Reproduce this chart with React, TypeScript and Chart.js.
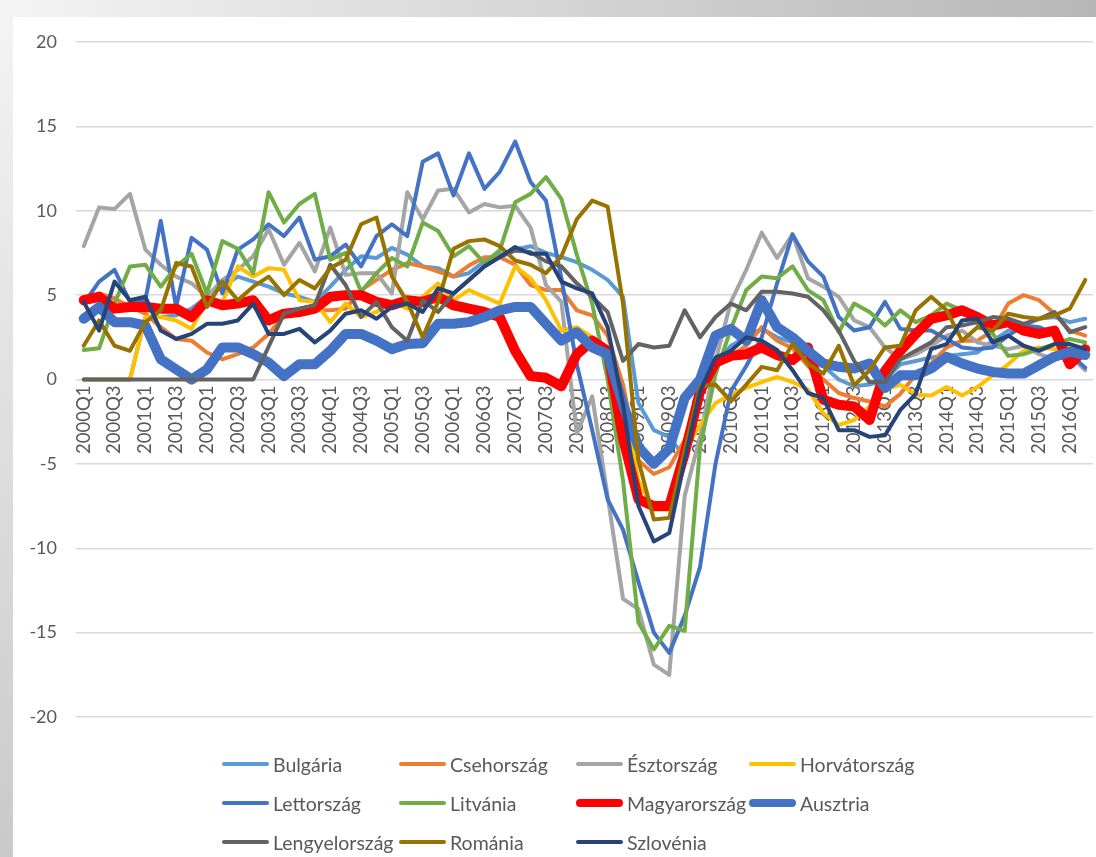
import React, { useEffect, useRef } from "react";
import { Chart, registerables } from "chart.js";

Chart.register(...registerables);

const quarters = [
  "2000Q1", "2000Q2", "2000Q3", "2000Q4", "2001Q1", "2001Q2", "2001Q3", "2001Q4",
  "2002Q1", "2002Q2", "2002Q3", "2002Q4", "2003Q1", "2003Q2", "2003Q3", "2003Q4",
  "2004Q1", "2004Q2", "2004Q3", "2004Q4", "2005Q1", "2005Q2", "2005Q3", "2005Q4",
  "2006Q1", "2006Q2", "2006Q3", "2006Q4", "2007Q1", "2007Q2", "2007Q3", "2007Q4",
  "2008Q1", "2008Q2", "2008Q3", "2008Q4", "2009Q1", "2009Q2", "2009Q3", "2009Q4",
  "2010Q1", "2010Q2", "2010Q3", "2010Q4", "2011Q1", "2011Q2", "2011Q3", "2011Q4",
  "2012Q1", "2012Q2", "2012Q3", "2012Q4", "2013Q1", "2013Q2", "2013Q3", "2013Q4",
  "2014Q1", "2014Q2", "2014Q3", "2014Q4", "2015Q1", "2015Q2", "2015Q3", "2015Q4",
  "2016Q1", "2016Q2",
];

const yTicks = [-20, -15, -10, -5, 0, 5, 10, 15, 20];

const bulgaria = [
  0, 0, 0, 0, 3.7, 3.7, 3.8, 4.2, 4.9, 5.5,
  6.1, 5.8, 5.5, 5.1, 4.9, 4.6, 5.5, 6.5, 7.3, 7.2,
  7.8, 7.4, 6.7, 6.6, 6.1, 6.3, 7.0, 7.4, 7.7, 7.9,
  7.5, 7.25, 6.95, 6.5, 5.9, 4.9, -1.4, -3.0, -3.4, -4.6,
  -0.5, 1.0, 2.0, 2.5, 3.0, 2.5, 2.2, 1.8, 0.8, 0.0,
  -0.4, -0.3, 0.0, 0.9, 1.1, 1.3, 1.4, 1.5, 1.6, 2.3,
  2.9, 3.2, 3.6, 3.7, 3.4, 3.6,
];

const csehorszag = [
  4.7, 5.1, 4.8, 4.3, 3.9, 3.1, 2.4, 2.3, 1.6, 1.2,
  1.5, 1.9, 2.7, 3.8, 4.0, 4.1, 4.1, 4.2, 5.3, 5.9,
  6.5, 6.9, 6.7, 6.4, 6.1, 6.75, 7.25, 7.25, 6.8, 5.6,
  5.3, 5.3, 4.1, 3.8, 2.6, -0.3, -4.8, -5.6, -5.2, -3.6,
  -0.5, 1.0, 1.4, 2.0, 3.1, 2.3, 1.85, 0.8, 0.0, -0.8,
  -1.1, -1.3, -1.6, -0.85, 0.3, 0.95, 1.9, 2.3, 2.3, 2.9,
  4.5, 5.0, 4.7, 3.9, 2.9, 2.6,
];

const esztorszag = [
  7.9, 10.2, 10.1, 11.0, 7.7, 6.8, 6.1, 5.7, 4.9, 5.9,
  6.5, 7.3, 8.9, 6.8, 8.1, 6.4, 9.0, 6.2, 6.3, 6.3,
  5.1, 11.1, 9.5, 11.2, 11.3, 9.9, 10.4, 10.2, 10.3, 9.0,
  5.6, 4.6, -3.2, -1.0, -6.9, -13.0, -13.6, -16.9, -17.5, -6.9,
  -3.4, 1.1, 4.6, 6.5, 8.7, 7.2, 8.6, 6.0, 5.5, 4.9,
  3.5, 3.1, 1.9, 1.2, 1.5, 2.0, 2.6, 2.9, 2.2, 2.0,
  1.8, 2.0, 1.5, 1.2, 1.4, 0.55,
];

const horvatorszag = [
  0, 0, 0, 0, 3.7, 3.7, 3.5, 3.0, 4.7, 4.6,
  6.7, 6.1, 6.6, 6.5, 4.7, 4.6, 3.4, 4.5, 3.7, 4.0,
  4.6, 4.2, 4.9, 5.7, 4.7, 5.3, 4.9, 4.5, 6.7, 6.0,
  4.7, 2.9, 3.1, 2.5, 1.6, -1.1, -6.0, -7.7, -7.7, -4.2,
  -2.7, -1.4, -0.9, -0.5, -0.15, 0.15, -0.15, -0.6, -2.0, -2.7,
  -2.4, -1.6, -0.6, -0.3, -0.9, -0.95, -0.45, -0.95, -0.45, 0.25,
  0.9, 1.7, 1.9, 1.8, 1.9, 1.5,
];

const lettorszag = [
  4.5, 5.8, 6.5, 4.6, 4.7, 9.4, 4.3, 8.4, 7.7, 5.1,
  7.7, 8.3, 9.2, 8.5, 9.6, 7.1, 7.3, 8.0, 6.7, 8.5,
  9.2, 8.5, 12.9, 13.4, 10.9, 13.4, 11.3, 12.3, 14.1, 11.7,
  10.6, 6.0, 0.9, -3.0, -7.1, -8.9, -12.0, -15.0, -16.2, -14.0,
  -11.1, -5.0, -0.7, 0.8, 2.5, 5.7, 8.6, 7.0, 6.1, 3.7,
  2.9, 3.1, 4.6, 3.0, 2.9, 2.9, 2.4, 1.9, 1.8, 1.9,
  2.6, 3.2, 3.1, 2.7, 1.5, 0.7,
];

const litvania = [
  1.75, 1.85, 4.5, 6.7, 6.8, 5.5, 6.7, 7.45, 5.1, 8.2,
  7.75, 6.3, 11.1, 9.3, 10.4, 11.0, 7.1, 7.5, 5.2, 6.3,
  7.2, 6.7, 9.3, 8.8, 7.3, 7.9, 6.9, 7.65, 10.5, 11.0,
  12.0, 10.7, 7.4, 4.5, 0.0, -6.0, -14.4, -16.0, -14.6, -14.9,
  -4.0, 0.3, 3.0, 5.3, 6.1, 6.0, 6.7, 5.3, 4.7, 2.8,
  4.5, 4.0, 3.2, 4.1, 3.4, 3.8, 4.5, 4.1, 3.3, 2.7,
  1.4, 1.5, 1.8, 2.1, 2.4, 2.2,
];

const magyarorszag = [
  4.7, 4.9, 4.2, 4.3, 4.3, 4.2, 4.2, 3.7, 4.7, 4.4,
  4.5, 4.7, 3.5, 3.9, 4.0, 4.2, 4.9, 5.0, 5.0, 4.6,
  4.4, 4.7, 4.6, 4.9, 4.4, 4.2, 4.0, 3.7, 1.7, 0.2,
  0.1, -0.4, 1.5, 2.3, 1.7, -3.5, -7.1, -7.5, -7.5, -4.4,
  -0.7, 1.0, 1.4, 1.5, 1.9, 1.45, 1.15, 1.9, -1.2, -1.5,
  -1.6, -2.4, 0.5, 1.7, 2.7, 3.6, 3.8, 4.1, 3.7, 3.2,
  3.4, 2.9, 2.7, 2.9, 0.9, 1.8,
];

const ausztria = [
  3.6, 4.3, 3.4, 3.4, 3.2, 1.2, 0.6, 0.0, 0.6, 1.9,
  1.9, 1.5, 1.0, 0.2, 0.9, 0.9, 1.7, 2.7, 2.7, 2.3,
  1.8, 2.1, 2.15, 3.3, 3.3, 3.4, 3.7, 4.1, 4.3, 4.3,
  3.3, 2.3, 2.8, 1.9, 1.5, -1.5, -4.0, -5.0, -4.1, -1.1,
  0.0, 2.6, 3.0, 2.3, 4.7, 3.1, 2.5, 1.7, 0.95, 0.75,
  0.65, 0.95, -0.5, 0.25, 0.25, 0.65, 1.35, 0.95, 0.65, 0.45,
  0.35, 0.35, 0.85, 1.35, 1.65, 1.45,
];

const lengyelorszag = [
  0, 0, 0, 0, 0, 0, 0, 0, 0, 0,
  0, 0, 1.95, 3.9, 4.2, 4.4, 6.8, 5.6, 3.7, 4.6,
  3.1, 2.3, 4.7, 4.0, 5.1, 5.9, 6.7, 7.25, 7.65, 7.55,
  7.0, 6.7, 5.7, 4.9, 4.0, 1.1, 2.1, 1.9, 2.0, 4.1,
  2.5, 3.7, 4.5, 4.1, 5.2, 5.2, 5.1, 4.9, 4.1, 2.9,
  1.1, -0.15, -0.15, 1.2, 1.7, 2.2, 3.1, 3.2, 3.4, 3.7,
  3.6, 3.3, 3.6, 4.0, 2.8, 3.1,
];

const romania = [
  2.0, 3.5, 2.0, 1.7, 3.4, 4.1, 6.9, 6.7, 4.3, 5.8,
  4.7, 5.5, 6.1, 5.0, 5.9, 5.4, 6.6, 7.1, 9.2, 9.6,
  6.1, 4.6, 2.5, 4.6, 7.75, 8.2, 8.3, 7.9, 7.05, 6.8,
  6.3, 7.3, 9.5, 10.6, 10.25, 4.5, -4.8, -8.3, -8.2, -4.2,
  -0.4, -0.3, -1.3, -0.3, 0.75, 0.55, 2.1, 0.95, 0.35, 2.0,
  -0.35, 0.55, 1.9, 2.0, 4.1, 4.9, 4.1, 2.3, 3.1, 2.9,
  3.9, 3.7, 3.6, 3.8, 4.2, 5.9,
];

const szlovenia = [
  4.6, 2.9, 5.8, 4.7, 4.9, 2.9, 2.4, 2.7, 3.3, 3.3,
  3.5, 4.5, 2.7, 2.7, 3.0, 2.2, 2.9, 3.9, 4.1, 3.6,
  4.3, 4.5, 4.0, 5.4, 5.1, 5.9, 6.7, 7.25, 7.85, 7.45,
  7.45, 5.8, 5.4, 5.1, 3.1, -1.5, -7.5, -9.6, -9.1, -4.8,
  -0.7, 1.3, 1.7, 2.5, 2.3, 1.75, 0.55, -0.8, -1.1, -3.0,
  -3.0, -3.4, -3.3, -1.8, -0.85, 1.8, 2.1, 3.5, 3.6, 2.2,
  2.6, 2.0, 1.7, 2.1, 2.1, 1.8,
];

const seriesNames = [
  "Bulgária", "Csehország", "Észtország", "Horvátország",
  "Lettország", "Litvánia", "Magyarország", "Ausztria",
  "Lengyelország", "Románia", "Szlovénia",
];

const seriesData = [
  bulgaria, csehorszag, esztorszag, horvatorszag,
  lettorszag, litvania, magyarorszag, ausztria,
  lengyelorszag, romania, szlovenia,
];

const seriesColors = [
  "#5B9BD5", "#ED7D31", "#A5A5A5", "#FFC000",
  "#4472C4", "#70AD47", "#FF0000", "#4472C4",
  "#636363", "#997300", "#264478",
];

const seriesWidths = [4, 4, 4, 4, 4, 4, 10, 10, 4, 4, 4];

const FONT = "Lato, 'Open Sans', sans-serif";
const TEXT = "#595959";

export default function App() {
  const canvasRef = useRef<HTMLCanvasElement | null>(null);

  useEffect(() => {
    if (!canvasRef.current) return;
    const n = seriesNames.length;
    const chart = new Chart(canvasRef.current, {
      type: "line",
      data: {
        labels: quarters,
        datasets: seriesNames.map((name, i) => ({
          label: name,
          data: seriesData[i],
          borderColor: seriesColors[i],
          backgroundColor: seriesColors[i],
          borderWidth: seriesWidths[i],
          pointRadius: 0,
          pointHoverRadius: 0,
          tension: 0,
          fill: false,
          borderJoinStyle: "round",
          borderCapStyle: "round",
          order: n - i,
        })),
      },
      options: {
        animation: false,
        responsive: false,
        devicePixelRatio: 1,
        events: [],
        layout: { padding: { left: 0, top: 42, right: 3, bottom: 140 } },
        plugins: {
          legend: { display: false },
          tooltip: { enabled: false },
        },
        scales: {
          x: {
            type: "category",
            position: { y: 0 } as any,
            offset: true,
            grid: { display: false, drawTicks: false },
            border: { display: false },
            ticks: {
              autoSkip: false,
              maxRotation: 90,
              minRotation: 90,
              padding: 6,
              color: TEXT,
              font: { family: FONT, size: 18.5 },
              callback: (_v: any, i: number) => (i % 2 === 0 ? quarters[i] : ""),
            },
            afterFit: (s: any) => {
              s.paddingLeft = 0;
              s.paddingRight = 0;
            },
          },
          y: {
            min: -20,
            max: 20,
            afterBuildTicks: (s: any) => {
              s.ticks = yTicks.map((v) => ({ value: v }));
            },
            ticks: {
              padding: 19,
              color: TEXT,
              font: { family: FONT, size: 18 },
            },
            grid: { color: "#d9d9d9", lineWidth: 1.5, drawTicks: false },
            border: { display: false },
            afterFit: (s: any) => {
              s.width = 76;
              s.paddingTop = 0;
              s.paddingBottom = 0;
            },
          },
        },
      },
    });
    return () => chart.destroy();
  }, []);

  const colX = [222, 399, 576, 749];
  const rowY = [764, 803, 842];

  return (
    <div
      style={{
        position: "absolute",
        left: 0,
        top: 0,
        width: 1096,
        height: 857,
        overflow: "hidden",
        background:
          "radial-gradient(ellipse 1150px 1300px at 0 0, #f4f4f4 0%, #b4b4b4 100%)",
      }}
    >
      <div
        style={{
          position: "absolute",
          left: 13,
          top: 17,
          right: 0,
          bottom: 0,
          background: "#ffffff",
        }}
      />
      <canvas
        ref={canvasRef}
        width={1096}
        height={857}
        style={{ position: "absolute", left: 0, top: 0, width: 1096, height: 857 }}
      />
      {seriesNames.map((name, i) => {
        const col = i % 4;
        const row = Math.floor(i / 4);
        return (
          <div
            key={name}
            style={{
              position: "absolute",
              left: colX[col],
              top: rowY[row] - 13,
              height: 26,
              display: "flex",
              alignItems: "center",
              whiteSpace: "nowrap",
              fontFamily: FONT,
              fontSize: 19.5,
              color: TEXT,
            }}
          >
            <div
              style={{
                width: 47,
                height: seriesWidths[i] > 5 ? 8 : 4,
                borderRadius: 4,
                background: seriesColors[i],
                marginRight: 4,
              }}
            />
            <span>{name}</span>
          </div>
        );
      })}
    </div>
  );
}
